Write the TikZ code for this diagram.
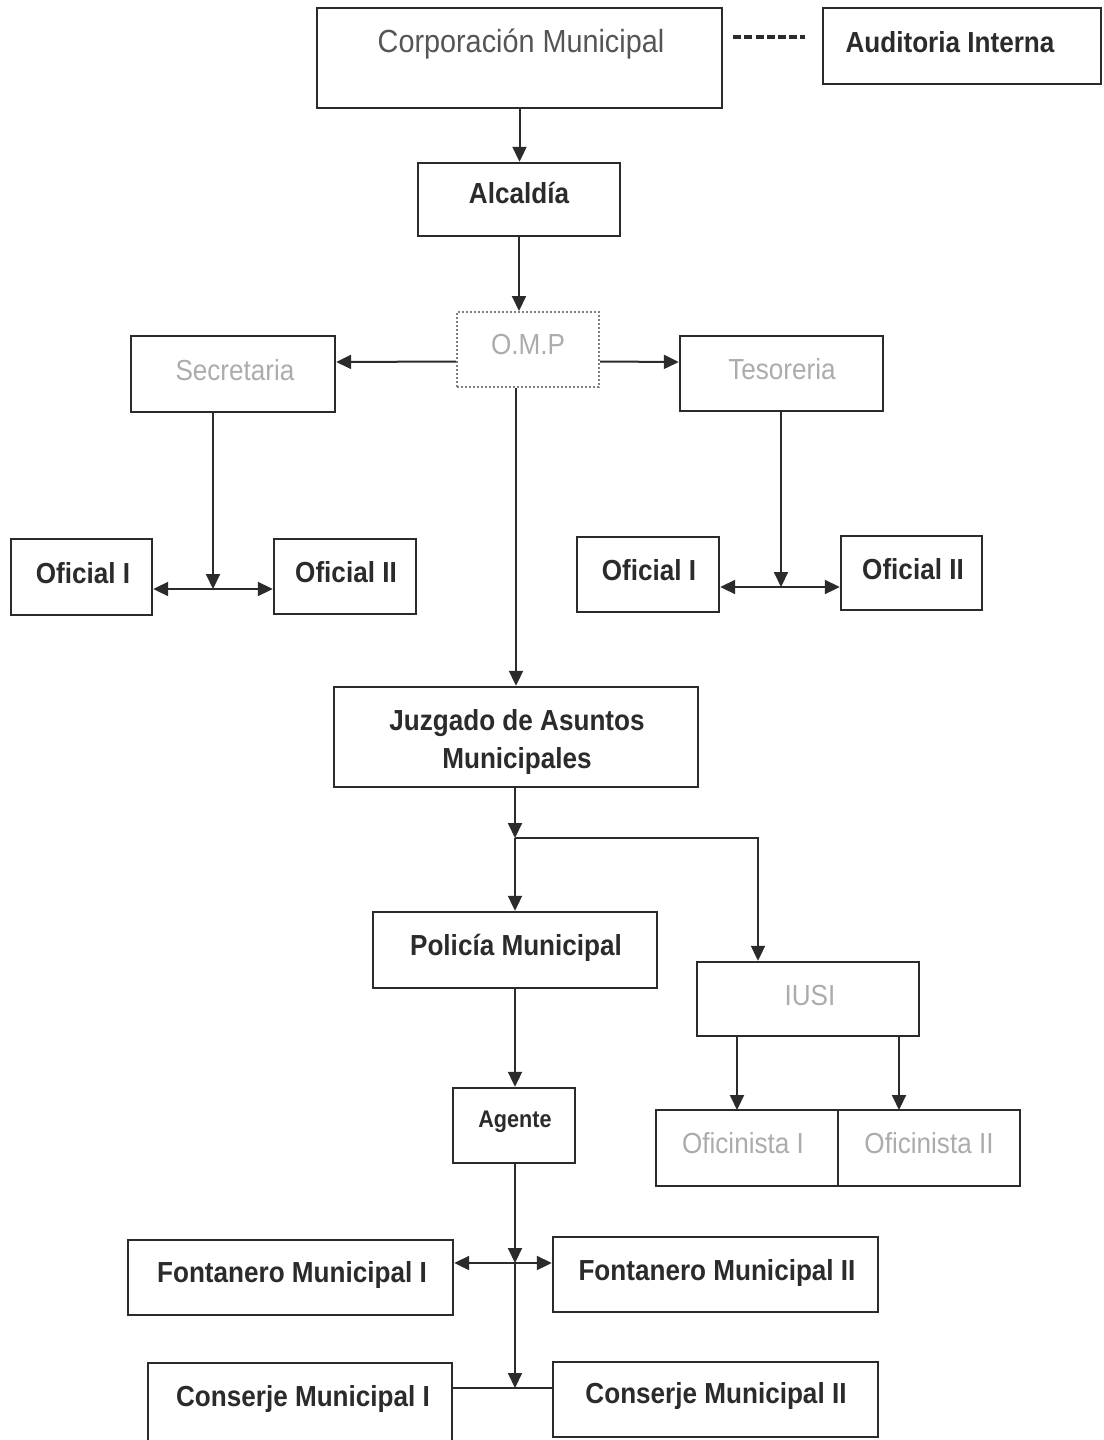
\documentclass[tikz,border=0pt]{standalone}
\usepackage{fontspec}
\setmainfont{Liberation Sans}[FakeStretch=0.9]
\usetikzlibrary{arrows.meta,fit,calc}
\definecolor{ink}{HTML}{2B2B2B}
\definecolor{pale}{HTML}{ACACAC}
\definecolor{midgray}{HTML}{555555}
\begin{document}
\begin{tikzpicture}[x=0.5pt,y=-0.5pt,
 box/.style={draw=ink, line width=1.2pt, inner sep=0pt},
 dotbox/.style={draw=gray, line width=1pt, densely dotted, inner sep=0pt},
 lbl/.style={inner sep=0pt, yshift=-1.5pt, text height=0.716em, text depth=0pt, font=\fontsize{14.5pt}{17pt}\selectfont\bfseries, text=ink},
 palelbl/.style={lbl, font=\fontsize{14.5pt}{17pt}\selectfont, text=pale},
 arr/.style={draw=ink, line width=1pt, -{Triangle[length=7.5pt,width=7pt]}},
 darr/.style={draw=ink, line width=1pt, {Triangle[length=7.5pt,width=7pt]}-{Triangle[length=7.5pt,width=7pt]}},
 ln/.style={draw=ink, line width=1pt}]
\fill[white] (0,0) rectangle (1103,1440);
\useasboundingbox (0,0) rectangle (1103,1440);

% boxes
\node[box, fit={(317,8) (722,108)}] (corp) {};
\node[box, fit={(823,8) (1101,84)}] (aud) {};
\node[box, fit={(418,163) (620,236)}] (alc) {};
\node[dotbox, fit={(457,312) (599,387)}] (omp) {};
\node[box, fit={(131,336) (335,412)}] (sec) {};
\node[box, fit={(680,336) (883,411)}] (tes) {};
\node[box, fit={(11,539) (152,615)}] (of1L) {};
\node[box, fit={(274,539) (416,614)}] (of2L) {};
\node[box, fit={(577,537) (719,612)}] (of1R) {};
\node[box, fit={(841,536) (982,610)}] (of2R) {};
\node[box, fit={(334,687) (698,787)}] (juz) {};
\node[box, fit={(373,912) (657,988)}] (pol) {};
\node[box, fit={(697,962) (919,1036)}] (iusi) {};
\node[box, fit={(656,1110) (838,1186)}] (ofc1) {};
\node[box, fit={(838,1110) (1020,1186)}] (ofc2) {};
\node[box, fit={(453,1088) (575,1163)}] (age) {};
\node[box, fit={(128,1240) (453,1315)}] (fon1) {};
\node[box, fit={(553,1237) (878,1312)}] (fon2) {};
\node[box, fit={(148,1363) (452,1441)}] (con1) {};
\node[box, fit={(553,1362) (878,1437)}] (con2) {};

% labels
\node[lbl, font=\fontsize{16pt}{19pt}\selectfont, text=midgray] (corpT) at (521,42) {Corporación Municipal};
\node[lbl] (audT) at (950,42) {Auditoria Interna};
\node[lbl] (alcT) at (519,193) {Alcaldía};
\node[palelbl] (ompT) at (528,344) {O.M.P};
\node[palelbl] (secT) at (235,370) {Secretaria};
\node[palelbl] (tesT) at (782,369) {Tesoreria};
\node[lbl] (of1LT) at (83,573) {Oficial I};
\node[lbl] (of2LT) at (346,572) {Oficial II};
\node[lbl] (of1RT) at (649,570) {Oficial I};
\node[lbl] (of2RT) at (913,569) {Oficial II};
\node[lbl] (juzT1) at (517,720) {Juzgado de Asuntos};
\node[lbl] (juzT2) at (517,758) {Municipales};
\node[lbl] (polT) at (516,945) {Policía Municipal};
\node[palelbl] (iusiT) at (810,995) {IUSI};
\node[palelbl] (ofc1T) at (743,1143) {Oficinista I};
\node[palelbl] (ofc2T) at (929,1143) {Oficinista II};
\node[lbl, font=\fontsize{12pt}{14pt}\selectfont\bfseries] (ageT) at (515,1117) {Agente};
\node[lbl] (fon1T) at (292,1272) {Fontanero Municipal I};
\node[lbl] (fon2T) at (717,1270) {Fontanero Municipal II};
\node[lbl] (con1T) at (303,1396) {Conserje Municipal I};
\node[lbl] (con2T) at (716,1393) {Conserje Municipal II};

% junction coordinates
\coordinate (j1) at (213,589);
\coordinate (j2) at (781,587);
\coordinate (j3) at (515,838);
\coordinate (j4) at (758,838);
\coordinate (k1) at (737,1110);
\coordinate (k2) at (899,1110);
\coordinate (j5) at (515,1263);
\coordinate (j6) at (515,1388);

% connectors
\draw[draw=ink, line width=1.8pt, dash pattern=on 4pt off 1.6pt] ($(corp.north east)+(10,30)$) -- ($(aud.north west)+(-17,30)$);
\draw[arr] (corp.south) -- (corp.south |- alc.north);
\draw[arr] (alc.south) -- (alc.south |- omp.north);
\draw[arr] ($(omp.west)+(0,12)$) -- ($(sec.east)+(0,-12)$);
\draw[arr] ($(omp.east)+(0,12)$) -- ($(tes.west)+(0,-11.5)$);
\draw[arr] (sec.south -| j1) -- (j1);
\draw[darr] (of1L.east |- j1) -- (of2L.west |- j1);
\draw[arr] (tes.south -| j2) -- (j2);
\draw[darr] (of1R.east |- j2) -- (of2R.west |- j2);
\draw[arr] (omp.south -| juz.north) -- (juz.north);
\draw[arr] (juz.south -| j3) -- (j3);
\draw[arr] (j3) -- (j4) -- (j4 |- iusi.north);
\draw[arr] (j3) -- (j3 |- pol.north);
\draw[arr] (iusi.south -| k1) -- (k1);
\draw[arr] (iusi.south -| k2) -- (k2);
\draw[arr] (pol.south -| j3) -- (j3 |- age.north);
\draw[arr] (age.south -| j5) -- (j5);
\draw[darr] (fon1.east |- j5) -- (fon2.west |- j5);
\draw[arr] (j5) -- (j6);
\draw[ln] (con1.east |- j6) -- (con2.west |- j6);
\end{tikzpicture}
\end{document}
